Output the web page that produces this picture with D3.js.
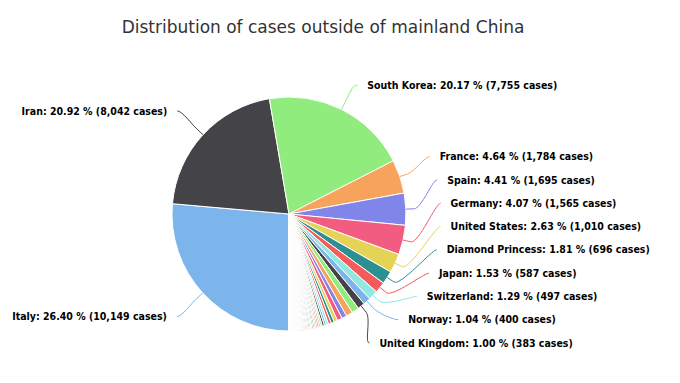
<!DOCTYPE html>
<html>
<head>
<meta charset="utf-8">
<script src="https://cdn.jsdelivr.net/npm/d3@7/dist/d3.min.js"></script>
<style>
body{margin:0;background:#fff;}
svg{display:block;}
</style>
</head>
<body>
<svg id="chart" width="680" height="383"></svg>
<script>
// data: cases outside of mainland China, in chart order
var countries=["Italy","Iran","South Korea","France","Spain","Germany","United States","Diamond Princess","Japan","Switzerland","Norway","United Kingdom",
	"Netherlands","Sweden","Belgium","Denmark","Austria","Singapore","Malaysia","Hong Kong","Australia","Bahrain",
	"Canada","Greece","Iceland","Israel","United Arab Emirates","Iraq","Kuwait","San Marino","Czechia","India",
	"Egypt","Finland","Slovenia","Thailand","Taiwan","Lebanon","Portugal","Brazil","Ireland","Philippines",
	"Vietnam","Poland","Romania","Indonesia","Palestine","Qatar","Saudi Arabia","Russia","Algeria","Argentina",
	"Chile","Oman","Pakistan","Georgia","Ecuador","Estonia","Croatia","Hungary","Peru","Azerbaijan",
	"Macau","Costa Rica","Belarus","Latvia","Mexico","Luxembourg","Slovakia","South Africa","North Macedonia","Bulgaria",
	"Serbia","Bosnia and Herzegovina","Malta","New Zealand","Afghanistan","Dominican Republic","French Guiana","Réunion","Maldives","Senegal",
	"Colombia","Channel Islands","Cuba","Albania","Cambodia","Tunisia","Morocco","Nigeria","Cameroon","Bolivia",
	"Cyprus","Martinique","Faroe Islands","Saint Martin","Burkina Faso","Honduras","Moldova","Armenia","Jordan","Lithuania",
	"Bhutan","Ukraine","Sri Lanka","Nepal","Paraguay","Togo","Liechtenstein","Andorra","Monaco","Vatican City",
	"Brunei","Panama","Gibraltar","Saint Barthélemy","Mongolia","Jamaica","Turkey","Ivory Coast","DR Congo","Guyana"];
var cases=[10149,8042,7755,1784,1695,1565,1010,696,587,497,400,383,
	382,355,267,264,188,166,149,120,112,110,
	93,89,81,75,74,71,69,63,63,62,
	59,59,57,53,47,41,41,34,34,33,
	31,31,29,27,25,24,21,20,20,19,
	17,16,16,15,15,13,12,12,11,11,
	10,9,9,8,7,7,7,7,7,6,
	5,5,5,5,5,5,5,5,4,4,
	3,3,3,2,2,2,2,2,2,2,
	2,2,2,2,2,2,1,1,1,1,
	1,1,1,1,1,1,1,1,1,1,
	1,1,1,1,1,1,1,1,1,1];
var palette=["#7cb5ec","#434348","#90ed7d","#f7a35c","#8085e9","#f15c80","#e4d354","#2b908f","#f45b5b","#91e8e1"];
var titleText="Distribution of cases outside of mainland China";

var width=680,height=383;
var cx=289,cy=214,radius=117;
var labelRadius=152;   //where the connector meets the label
var labelGap=23.3;     //min vertical distance between two labels
var textPad=10;

var svg=d3.select("#chart");
var data=countries.map(function(c,i){return {name:c,value:cases[i],idx:i};});
var total=d3.sum(cases);
var fmtPct=d3.format(".2f"),fmtNum=d3.format(",");

svg.append("text")
	.attr("x",323).attr("y",33)
	.attr("text-anchor","middle")
	.style("font-family","'DejaVu Sans',sans-serif")
	.style("font-size","17px")
	.style("fill","#333333")
	.text(titleText);

var pie=d3.pie().sort(null).value(function(d){return d.value;})
	.startAngle(Math.PI).endAngle(3*Math.PI);
var arc=d3.arc().innerRadius(0).outerRadius(radius);
var arcs=pie(data);

var g=svg.append("g").attr("transform","translate("+cx+","+cy+")");
g.selectAll("path.slice")
	.data(arcs)
	.enter().append("path")
	.attr("class","slice")
	.attr("d",arc)
	.attr("fill",function(d){return palette[d.data.idx%palette.length];})
	.attr("stroke","#ffffff")
	.attr("stroke-width",1)
	.attr("stroke-linejoin","round");

// labels only for slices that round to at least 1.00 %
var labelled=arcs.filter(function(d){return +fmtPct(d.value/total*100)>=1;});
labelled.forEach(function(d){
	d.mid=(d.startAngle+d.endAngle)/2;
	d.side=Math.sin(d.mid)>0?1:-1;
	d.natY=-labelRadius*Math.cos(d.mid);
	d.natX=labelRadius*Math.sin(d.mid);
});

//spread the labels on each side so they don't overlap
var yMin=-(radius+12),yMax=radius+12;
[1,-1].forEach(function(side){
	var list=labelled.filter(function(d){return d.side===side;})
		.sort(function(a,b){return a.natY-b.natY;});
	var i;
	for(i=0;i<list.length;i++){
		var y=Math.max(list[i].natY,yMin);
		list[i].clamped=(list[i].natY<yMin);
		if(i>0&&y<list[i-1].ly+labelGap){ y=list[i-1].ly+labelGap; list[i].clamped=false; }
		list[i].ly=y;
	}
	for(i=list.length-1;i>=0;i--){
		var lim=(i===list.length-1)?yMax:list[i+1].ly-labelGap;
		if(list[i].ly>lim){ list[i].ly=lim; list[i].clamped=false; }
	}
});

labelled.forEach(function(d){
	var dy=d.ly;
	if(d.clamped) d.lx=d.natX;
	else d.lx=d.side*Math.sqrt(Math.max(0,labelRadius*labelRadius-dy*dy));
	var tx=radius*Math.sin(d.mid),ty=-radius*Math.cos(d.mid);
	var bx=(radius+8)*Math.sin(d.mid),by=-(radius+8)*Math.cos(d.mid);
	d.path="M"+d.lx+","+d.ly+
		"C"+(d.lx-5*d.side)+","+d.ly+" "+(2*bx-tx)+","+(2*by-ty)+" "+bx+","+by+
		"L"+tx+","+ty;
});

g.selectAll("path.connector")
	.data(labelled)
	.enter().append("path")
	.attr("class","connector")
	.attr("d",function(d){return d.path;})
	.attr("fill","none")
	.attr("stroke",function(d){return palette[d.data.idx%palette.length];})
	.attr("stroke-width",1);

g.selectAll("text.label")
	.data(labelled)
	.enter().append("text")
	.attr("class","label")
	.attr("x",function(d){return d.lx+textPad*d.side;})
	.attr("y",function(d){return d.ly;})
	.attr("dy","0.35em")
	.attr("text-anchor",function(d){return d.side>0?"start":"end";})
	.style("font-family","'DejaVu Sans Condensed','DejaVu Sans',sans-serif")
	.style("font-weight","bold")
	.style("font-size","10.5px")
	.style("fill","#000000")
	.text(function(d){
		return d.data.name+": "+fmtPct(d.value/total*100)+" % ("+fmtNum(d.value)+" cases)";
	});
</script>
</body>
</html>
